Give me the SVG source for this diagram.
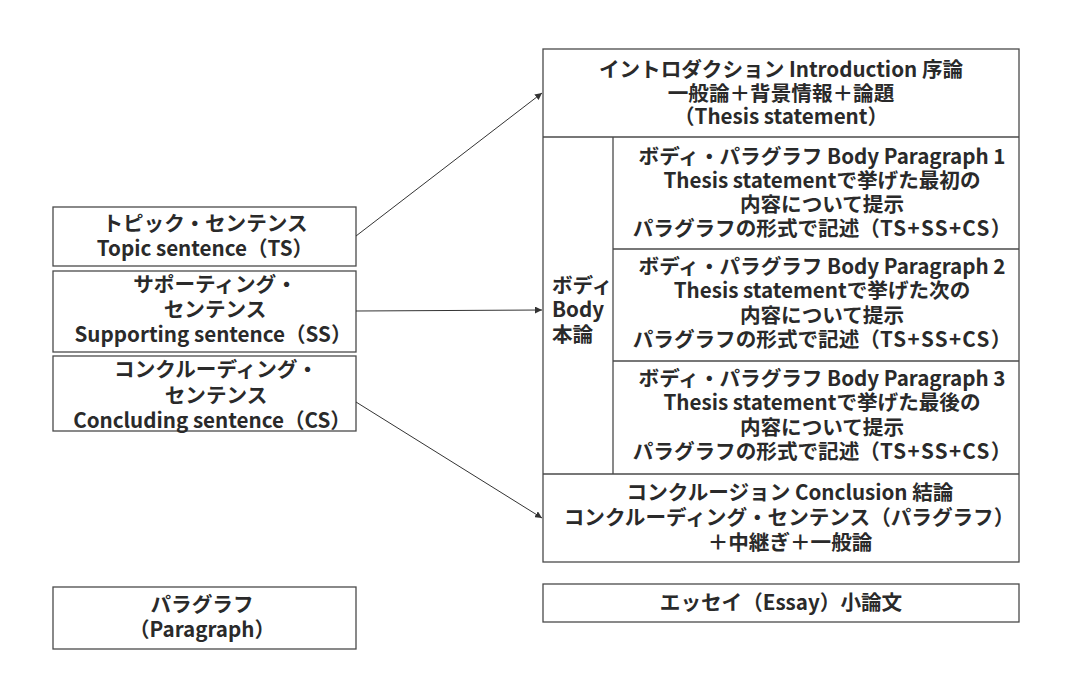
<svg xmlns="http://www.w3.org/2000/svg" width="1075" height="674" viewBox="0 0 1075 674">
<defs>
<style>
.box{fill:#fff;stroke:#4a4a4a;stroke-width:1.3}
.ln{stroke:#4a4a4a;stroke-width:1.3;fill:none}
.t{font-family:"Noto Sans CJK JP","Noto Sans",sans-serif;font-size:20.6px;font-weight:700;fill:#2a2a2a;text-anchor:middle}
.l{text-anchor:start}
.w{letter-spacing:1.3px}
.con{stroke:#333;stroke-width:1;fill:none;marker-end:url(#ah)}
</style>
<marker id="ah" viewBox="0 0 10 10" refX="10" refY="5" markerWidth="7" markerHeight="7" markerUnits="userSpaceOnUse" orient="auto">
<path d="M0,0 L10,5 L0,10 Z" fill="#333"/>
</marker>
</defs>
<rect width="1075" height="674" fill="#fff"/>

<g id="ts">
<rect class="box" x="53" y="207" width="303" height="59"/>
<text class="t" x="205" y="231">トピック・センテンス</text>
<text class="t" x="205" y="256">Topic sentence（TS）</text>
</g>
<g id="ss">
<rect class="box" x="53" y="271" width="303" height="81"/>
<text class="t" x="215" y="292">サポーティング・</text>
<text class="t" x="215" y="317">センテンス</text>
<text class="t" x="213" y="342">Supporting sentence（SS）</text>
</g>
<g id="cs">
<rect class="box" x="53" y="356" width="303" height="75"/>
<text class="t" x="216" y="377">コンクルーディング・</text>
<text class="t" x="216" y="403">センテンス</text>
<text class="t" x="212" y="428">Concluding sentence（CS）</text>
</g>
<g id="paragraph">
<rect class="box" x="53" y="587" width="303" height="62"/>
<text class="t" x="202" y="612">パラグラフ</text>
<text class="t" x="202" y="637">（Paragraph）</text>
</g>

<g id="essay-body">
<rect class="box" x="543" y="49" width="476" height="513"/>
</g>
<g id="intro">
<line class="ln" x1="543" y1="137" x2="1019" y2="137"/>
<text class="t" x="781" y="77">イントロダクション Introduction 序論</text>
<text class="t" x="781" y="101">一般論＋背景情報＋論題</text>
<text class="t" x="781" y="124">（Thesis statement）</text>
</g>
<g id="body">
<line class="ln" x1="613" y1="137" x2="613" y2="474"/>
<text class="t l" x="552" y="293">ボディ</text>
<text class="t l" x="552" y="317">Body</text>
<text class="t l" x="552" y="342">本論</text>
</g>
<g id="bp1">
<line class="ln" x1="613" y1="249" x2="1019" y2="249"/>
<text class="t" x="822" y="164">ボディ・パラグラフ Body Paragraph 1</text>
<text class="t" x="822" y="188">Thesis statementで挙げた最初の</text>
<text class="t" x="822" y="212">内容について提示</text>
<text class="t" x="822" y="236">パラグラフの形式で記述（<tspan class="w">TS+SS+CS</tspan>）</text>
</g>
<g id="bp2">
<line class="ln" x1="613" y1="361" x2="1019" y2="361"/>
<text class="t" x="822" y="274">ボディ・パラグラフ Body Paragraph 2</text>
<text class="t" x="822" y="298">Thesis statementで挙げた次の</text>
<text class="t" x="822" y="323">内容について提示</text>
<text class="t" x="822" y="347">パラグラフの形式で記述（<tspan class="w">TS+SS+CS</tspan>）</text>
</g>
<g id="bp3">
<text class="t" x="822" y="386">ボディ・パラグラフ Body Paragraph 3</text>
<text class="t" x="822" y="410">Thesis statementで挙げた最後の</text>
<text class="t" x="822" y="435">内容について提示</text>
<text class="t" x="822" y="459">パラグラフの形式で記述（<tspan class="w">TS+SS+CS</tspan>）</text>
</g>
<g id="conclusion">
<line class="ln" x1="543" y1="474" x2="1019" y2="474"/>
<text class="t" x="790" y="500">コンクルージョン Conclusion 結論</text>
<text class="t" x="789" y="525">コンクルーディング・センテンス（パラグラフ）</text>
<text class="t" x="790" y="550">＋中継ぎ＋一般論</text>
</g>
<g id="essay">
<rect class="box" x="543" y="584" width="476" height="38"/>
<text class="t" x="781" y="610">エッセイ（Essay）小論文</text>
</g>

<g id="connectors">
<line class="con" x1="356" y1="236" x2="542" y2="93"/>
<line class="con" x1="356" y1="311" x2="542" y2="310"/>
<line class="con" x1="356" y1="402" x2="542" y2="518"/>
</g>
</svg>
